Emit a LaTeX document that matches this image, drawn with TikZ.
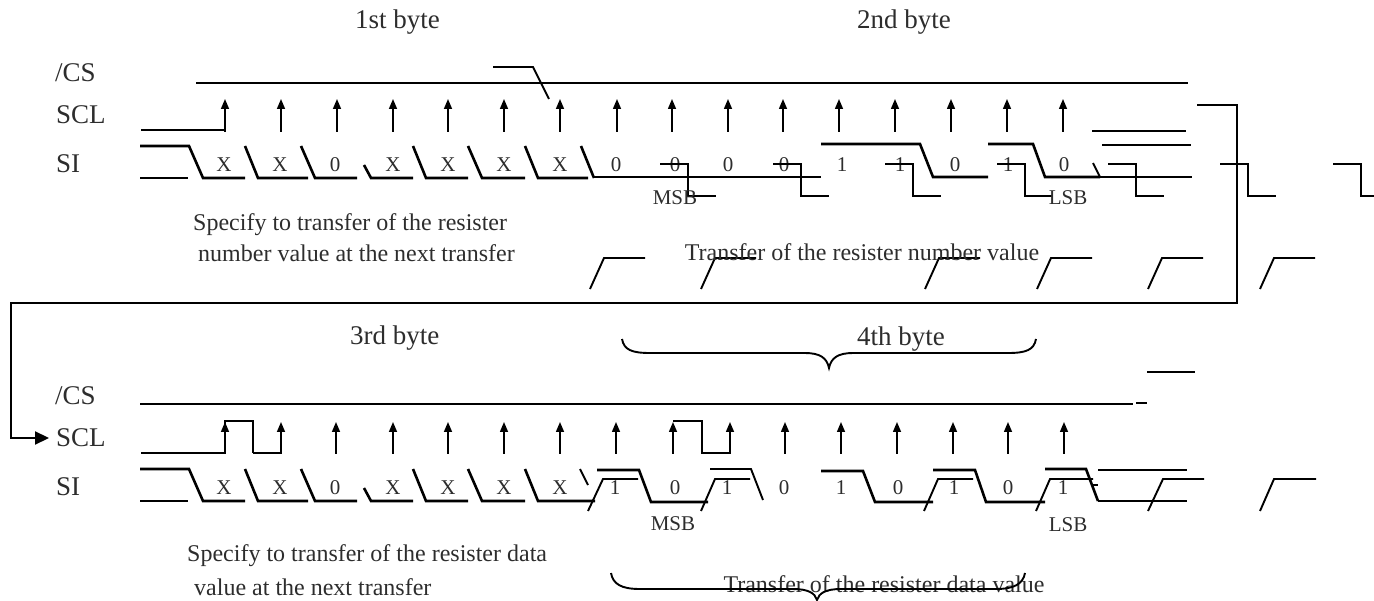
\documentclass[tikz,border=0pt]{standalone}
\usepackage{fontspec}
\setmainfont{Liberation Serif}
\usetikzlibrary{arrows.meta}
\definecolor{txt}{RGB}{45,45,45}
\begin{document}
\begin{tikzpicture}[x=1pt,y=-1pt,
  lbl/.style={font=\fontsize{27}{30}\selectfont, text=txt, inner sep=0pt, anchor=west},
  bit/.style={font=\fontsize{21}{24}\selectfont, text=txt, inner sep=0pt},
  desc/.style={font=\fontsize{24}{28}\selectfont, text=txt, inner sep=0pt, anchor=west},
  sig/.style={line width=2.6pt, line join=miter},
  mid/.style={line width=1.9pt},
  fine/.style={line width=1.4pt},
  clk/.style={line width=1.5pt, -{Triangle[length=10pt,width=8pt]}},
  conn/.style={line width=2.2pt, -{Triangle[length=14pt,width=13pt]}},
]
\useasboundingbox (0,0) rectangle (1374,601);

% ================= upper diagram =================
\node[lbl] (b1) at (355,22) {1st byte};
\node[lbl] (b2) at (857,22) {2nd byte};
\node[lbl] (cs1) at (55,73) {/CS};
\node[lbl] (scl1) at (56,115) {SCL};
\node[lbl] (si1) at (56,164) {SI};

\draw[mid] (196,83) -- (1188,83);
\draw[mid] (493,67) -- (533,67) -- (549,99);

\draw[sig] (141,130) -- (225,130);
\foreach \x in {225,281,337,393,448,504,560,617,672,728,783,839,895,951,1007,1063}
  \draw[clk] (\x,132) -- (\x,99);

\draw[sig] (140,146) -- (189,146) -- (203,178) -- (245,178);
\draw[sig] (140,178) -- (188,178);
\draw[sig] (245,146) -- (258,178) -- (308,178);
\draw[sig] (301,146) -- (315,178) -- (357,178);
\draw[sig] (364,165) -- (371,178) -- (413,178);
\draw[sig] (413,146) -- (426,178) -- (468,178);
\draw[sig] (468,146) -- (482,178) -- (525,178);
\draw[sig] (525,146) -- (538,178) -- (588,178);
\draw[sig] (581,146) -- (594,178);
\draw[fine] (594,177) -- (807,177);
\draw[sig] (807,177) -- (821,177);
\draw[sig] (821,144) -- (920,144) -- (933,177) -- (988,177);
\draw[sig] (988,144) -- (1033,144) -- (1045,177) -- (1100,177);
\draw[mid] (1093,163) -- (1100,177);
\draw[mid] (1100,177) -- (1192,177);
\draw[mid] (1092,131) -- (1186,131);
\draw[mid] (1102,145) -- (1191,145);

\foreach \x/\t in {224/X,280/X,335/0,393/X,448/X,504/X,560/X,616/0,675/0,728/0,784/0,842/1,900/1,955/0,1008/1,1064/0}
  \node[bit] at (\x,165) {\t};

\foreach \s in {660,773,885,997,1108,1220,1333}
  \draw[mid] (\s,164) -- ++(28,0) -- ++(0,32) -- ++(28,0);

\node[bit] (msb1) at (675,198) {MSB};
\node[bit] (lsb1) at (1068,198) {LSB};

\foreach \s in {590,701,925,1037,1148,1260}
  \draw[mid] (\s,289) -- ++(14,-31) -- ++(41,0);

\node[desc] (d1a) at (193,225) {Specify to transfer of the resister};
\node[desc] (d1b) at (198,253) {number value at the next transfer};
\node[desc, anchor=center] (t1) at (862,252) {Transfer of the resister number value};

% ================= lower diagram =================
\node[lbl] (b3) at (350,338) {3rd byte};
\node[lbl] (b4) at (857,339) {4th byte};
\draw[mid] (622,339) .. controls (624,350) and (632,353) .. (650,353) -- (805,353)
  .. controls (820,353) and (827,358) .. (829,368)
  .. controls (831,358) and (838,353) .. (853,353) -- (1008,353)
  .. controls (1026,353) and (1034,350) .. (1036,339);

\node[lbl] (cs2) at (55,396) {/CS};
\node[lbl] (scl2) at (56,438) {SCL};
\node[lbl] (si2) at (56,487) {SI};

% connector from upper to lower
\draw[conn] (1197,105) -- (1237,105) -- (1237,303) -- (11,303) |- ([xshift=-7pt]scl2.west);

\draw[sig] (140,404) -- (1133,404);
\draw[sig] (1136,403) -- (1147,403);
\draw[sig] (1147,372) -- (1195,372);

\draw[sig] (141,453) -- (225,453);
\draw[mid] (225,453) -- (225,421) -- (253,421) -- (253,453);
\draw[sig] (253,453) -- (281,453);
\draw[mid] (673,421) -- (702,421) -- (702,453) -- (730,453);
\foreach \x in {225,281,336,393,448,504,560,616,673,730,785,841,897,953,1008,1064}
  \draw[clk] (\x,454) -- (\x,422);

\draw[sig] (140,469) -- (189,469) -- (203,501) -- (245,501);
\draw[sig] (140,501) -- (188,501);
\draw[sig] (245,469) -- (258,501) -- (308,501);
\draw[sig] (301,469) -- (315,501) -- (357,501);
\draw[sig] (364,488) -- (371,501) -- (413,501);
\draw[sig] (413,469) -- (426,501) -- (468,501);
\draw[sig] (468,469) -- (482,501) -- (525,501);
\draw[sig] (525,469) -- (538,501) -- (595,501);
\draw[mid] (580,469) -- (588,485);
\draw[sig] (597,470) -- (639,470) -- (651,502) -- (708,502);
\draw[mid] (588,511) -- (603,479) -- (638,479);
\draw[mid] (701,511) -- (715,479) -- (750,479);
\draw[mid] (710,469) -- (751,469) -- (763,500);
\draw[sig] (821,471) -- (863,471) -- (875,502) -- (933,502);
\draw[mid] (924,511) -- (938,479) -- (973,479);
\draw[sig] (933,470) -- (975,470) -- (986,502) -- (1045,502);
\draw[mid] (1036,511) -- (1050,479) -- (1093,479);
\draw[sig] (1092,485) -- (1098,485);
\draw[sig] (1045,469) -- (1086,469) -- (1098,501);
\draw[mid] (1098,501) -- (1187,501);
\draw[mid] (1098,470) -- (1187,470);
\draw[mid] (1148,511) -- (1163,479) -- (1204,479);
\draw[mid] (1260,511) -- (1274,479) -- (1316,479);

\foreach \x/\t in {224/X,280/X,335/0,393/X,448/X,504/X,560/X,615/1,675/0,727/1,784/0,841/1,898/0,954/1,1008/0,1063/1}
  \node[bit] at (\x,488) {\t};

\node[bit] (msb2) at (673,524) {MSB};
\node[bit] (lsb2) at (1068,525) {LSB};

\node[desc] (d2a) at (187,556) {Specify to transfer of the resister data};
\node[desc] (d2b) at (194,587) {value at the next transfer};
\node[desc, anchor=center] (t2) at (884,584) {Transfer of the resister data value};
\draw[mid] (611,573) .. controls (613,584) and (621,589) .. (640,589) -- (793,589)
  .. controls (808,589) and (815,593) .. (817,600)
  .. controls (819,593) and (826,589) .. (841,589) -- (996,589)
  .. controls (1014,589) and (1023,584) .. (1025,573);
\end{tikzpicture}
\end{document}
